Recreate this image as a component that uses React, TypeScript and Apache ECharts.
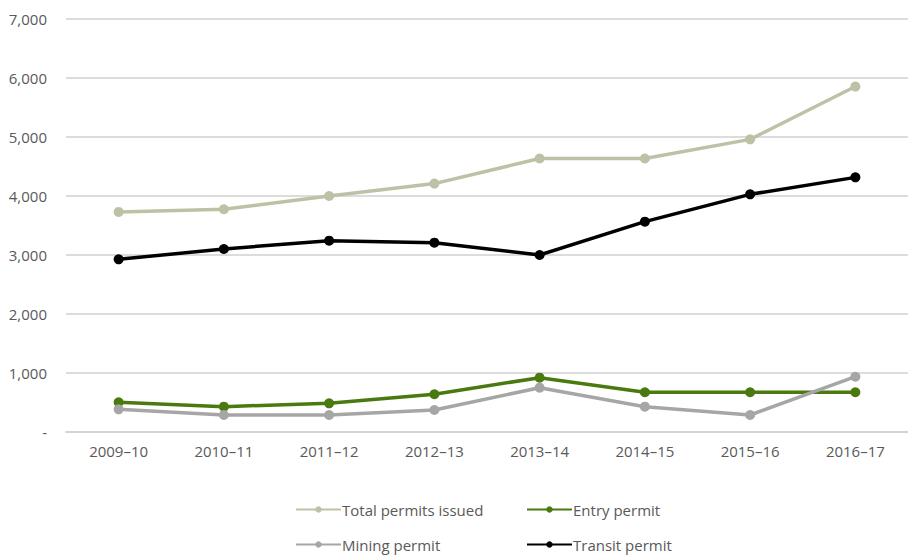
import React, { useEffect, useRef } from "react";
import * as echarts from "echarts";

const categories = ["2009–10", "2010–11", "2011–12", "2012–13", "2013–14", "2014–15", "2015–16", "2016–17"];
const totalPermits = [3730, 3775, 4000, 4210, 4635, 4635, 4960, 5855];
const entryPermit = [503, 430, 486, 640, 921, 673, 673, 673];
const miningPermit = [384, 288, 288, 373, 751, 429, 288, 937];
const transitPermit = [2927, 3102, 3243, 3209, 3000, 3565, 4028, 4316];
const yTicks = { min: 0, max: 7000, interval: 1000 };

const FONT = "'Open Sans', 'Noto Sans', sans-serif";
const LABEL = "#595959";

export default function App() {
  const ref = useRef<HTMLDivElement>(null);
  useEffect(() => {
    const chart = echarts.init(ref.current!, undefined, { renderer: "svg" });
    const mk = (name: string, data: number[], color: string) => ({
      name,
      type: "line",
      data,
      symbol: "circle",
      symbolSize: 10,
      lineStyle: { color, width: 3.5 },
      itemStyle: { color },
      z: 2,
    });
    const legendBase = {
      itemWidth: 45,
      itemHeight: 8,
      textStyle: { color: LABEL, fontSize: 15, fontFamily: FONT, padding: [0, 0, 0, -4] },
      padding: 0,
    };
    chart.setOption({
      animation: false,
      textStyle: { fontFamily: FONT },
      grid: { left: 66, right: -4, top: 19, bottom: 125 },
      legend: [
        { ...legendBase, data: ["Total permits issued"], left: 295, top: 502 },
        { ...legendBase, data: ["Entry permit"], left: 526, top: 502 },
        { ...legendBase, data: ["Mining permit"], left: 295, top: 537 },
        { ...legendBase, data: ["Transit permit"], left: 526, top: 537 },
      ],
      xAxis: {
        type: "category",
        data: categories,
        boundaryGap: true,
        axisLine: { lineStyle: { color: "#d0d0d0", width: 1.5 } },
        axisTick: { show: false },
        axisLabel: { color: LABEL, fontSize: 15, fontFamily: FONT, margin: 11 },
      },
      yAxis: {
        type: "value",
        min: yTicks.min,
        max: yTicks.max,
        interval: yTicks.interval,
        axisLine: { show: false },
        axisTick: { show: false },
        splitLine: { lineStyle: { color: "#d0d0d0", width: 1.5 } },
        axisLabel: {
          color: LABEL,
          fontSize: 15,
          fontFamily: FONT,
          margin: 19,
          formatter: (v: number) => (v === 0 ? "-" : v.toLocaleString("en-US")),
        },
      },
      series: [
        mk("Total permits issued", totalPermits, "#bcc2a5"),
        mk("Entry permit", entryPermit, "#4a7a0f"),
        mk("Mining permit", miningPermit, "#a6a6a6"),
        mk("Transit permit", transitPermit, "#000000"),
      ],
    });
    return () => chart.dispose();
  }, []);
  return <div ref={ref} style={{ width: 908, height: 557, position: "absolute", left: 0, top: 0 }} />;
}
